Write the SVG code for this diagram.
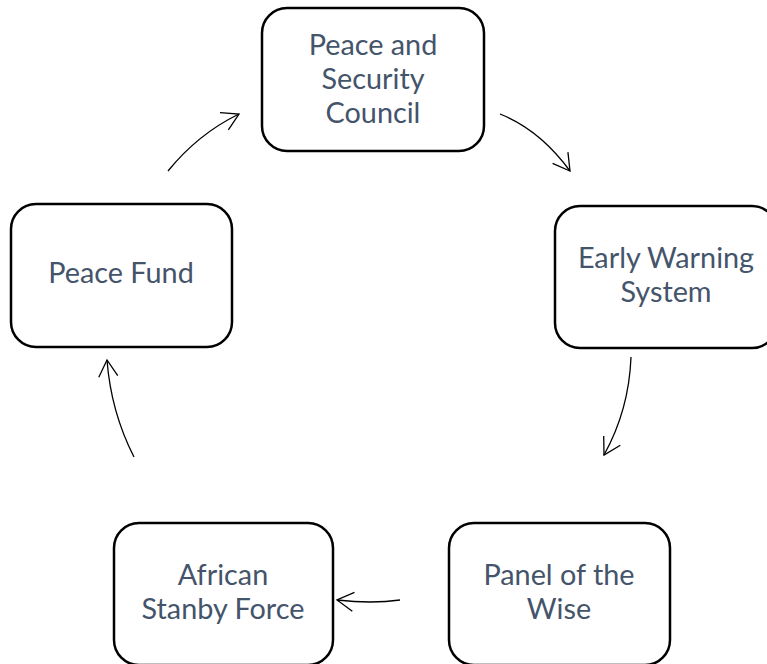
<svg xmlns="http://www.w3.org/2000/svg" width="767" height="664" viewBox="0 0 767 664">
<style>
.box{fill:#fff;stroke:#000;stroke-width:2.5}
.t{font-family:"Lato","Open Sans","Liberation Sans",sans-serif;font-size:28.8px;fill:#44546A;text-anchor:middle}
.c{fill:none;stroke:#000;stroke-width:1.3}
</style>
<defs>
<marker id="ah" markerUnits="userSpaceOnUse" markerWidth="24" markerHeight="24" refX="20" refY="12" orient="auto" viewBox="0 0 24 24">
<path d="M3.5,2.5 L20,12 L3.5,21.5" fill="none" stroke="#000" stroke-width="1.3"/>
</marker>
</defs>
<rect width="767" height="664" fill="#fff"/>
<g id="psc"><rect class="box" x="262" y="8" width="222" height="143" rx="25"/><text class="t" x="373" y="55">Peace and</text><text class="t" x="373" y="89">Security</text><text class="t" x="373" y="123">Council</text></g>
<g id="ews"><rect class="box" x="555" y="206" width="222" height="142" rx="25"/><text class="t" x="666" y="268">Early Warning</text><text class="t" x="666" y="302">System</text></g>
<g id="potw"><rect class="box" x="449" y="523" width="221" height="142" rx="25"/><text class="t" x="559" y="585">Panel of the</text><text class="t" x="559" y="619">Wise</text></g>
<g id="asf"><rect class="box" x="114" y="523" width="219" height="142" rx="25"/><text class="t" x="223" y="585">African</text><text class="t" x="223" y="619">Stanby Force</text></g>
<g id="pf"><rect class="box" x="11" y="204" width="221" height="143" rx="25"/><text class="t" x="121" y="283">Peace Fund</text></g>
<g id="connectors">
<path class="c" d="M500,114 Q540,130 570,171" marker-end="url(#ah)"/>
<path class="c" d="M631,357 Q629,410 604,455" marker-end="url(#ah)"/>
<path class="c" d="M400,600 Q372,604 337,600" marker-end="url(#ah)"/>
<path class="c" d="M134,457 Q111,412 107,360" marker-end="url(#ah)"/>
<path class="c" d="M168,171 Q198,134 239,114" marker-end="url(#ah)"/>
</g>
</svg>
